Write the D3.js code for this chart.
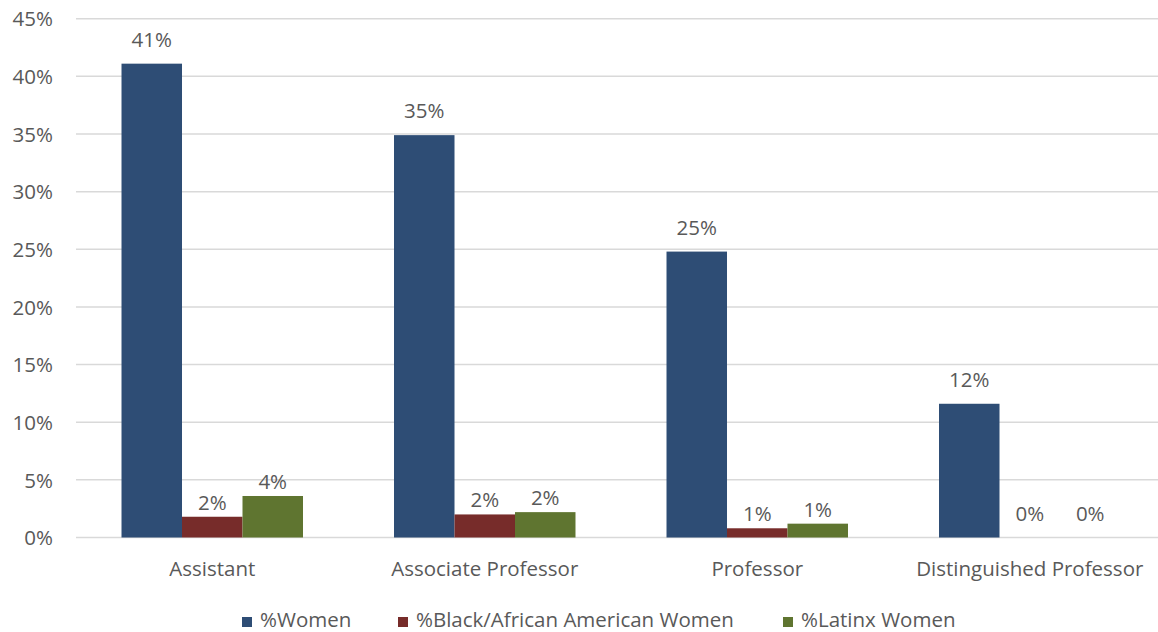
<!DOCTYPE html>
<html>
<head>
<meta charset="utf-8">
<script src="https://cdn.jsdelivr.net/npm/d3@7"></script>
<style>
  body { margin: 0; background: #fff; }
  text { font-family: "Open Sans", sans-serif; fill: #595959; }
</style>
</head>
<body>
<svg id="chart" width="1158" height="632"></svg>
<script>
// categories and series
var categories = ["Assistant", "Associate Professor", "Professor", "Distinguished Professor"];
var seriesNames = ["%Women", "%Black/African American Women", "%Latinx Women"];
var women  = [0.411, 0.349, 0.248, 0.116];
var black  = [0.018, 0.020, 0.008, 0];
var latinx = [0.036, 0.022, 0.012, 0];
var yTicks = [0, 0.05, 0.10, 0.15, 0.20, 0.25, 0.30, 0.35, 0.40, 0.45];
var colors = ["#2e4d75", "#772c2a", "#5f7530"];

var values = [women, black, latinx];

var svg = d3.select("#chart");

var x0 = d3.scaleBand()
    .domain(categories)
    .range([76, 1166])
    .paddingInner(0.334)
    .paddingOuter(0.167);

var x1 = d3.scaleBand()
    .domain(d3.range(seriesNames.length))
    .range([0, x0.bandwidth()]);

var y = d3.scaleLinear()
    .domain([0, 0.45])
    .range([537.5, 18.7]);

var fmt = d3.format(".0%");

//gridlines
svg.append("g")
    .selectAll("line")
    .data(yTicks)
    .enter().append("line")
    .attr("x1", 76)
    .attr("x2", 1166)
    .attr("y1", function(d) { return y(d); })
    .attr("y2", function(d) { return y(d); })
    .style("stroke", "#d9d9d9")
    .style("stroke-width", 1.5);

//y axis labels
var yAxis = d3.axisLeft(y).tickValues(yTicks).tickFormat(fmt).tickSize(0).tickPadding(0);
var ya = svg.append("g")
    .attr("transform", "translate(53,0)")
    .call(yAxis);
ya.select(".domain").remove();
ya.selectAll("text")
    .style("font-size", "20.5px")
    .style("fill", "#595959")
    .style("font-family", "'Open Sans', sans-serif")
    .attr("dy", "0.35em");

//bars
var groups = svg.append("g")
    .selectAll("g")
    .data(categories)
    .enter().append("g")
    .attr("transform", function(d) { return "translate(" + x0(d) + ",0)"; });

groups.selectAll("rect")
    .data(function(d, i) { return values.map(function(s, j) { return {s: j, v: s[i]}; }); })
    .enter().append("rect")
    .attr("x", function(d) { return x1(d.s); })
    .attr("width", x1.bandwidth())
    .attr("y", function(d) { return y(d.v); })
    .attr("height", function(d) { return y(0) - y(d.v); })
    .style("fill", function(d) { return colors[d.s]; });

//value labels
groups.selectAll("text.val")
    .data(function(d, i) { return values.map(function(s, j) { return {s: j, v: s[i]}; }); })
    .enter().append("text")
    .attr("class", "val")
    .attr("x", function(d) { return x1(d.s) + x1.bandwidth() / 2; })
    .attr("y", function(d) {
        var off = (d.v >= 0.1 || d.v === 0) ? 17 : 7;
        return y(d.v) - off;
    })
    .attr("text-anchor", "middle")
    .style("font-size", "20.5px")
    .text(function(d) { return fmt(d.v); });

//x axis labels
var xAxis = d3.axisBottom(x0).tickSize(0).tickPadding(0);
var xa = svg.append("g")
    .attr("transform", "translate(0,576)")
    .call(xAxis);
xa.select(".domain").remove();
xa.selectAll("text")
    .attr("y", 0)
    .attr("dy", 0)
    .style("font-size", "20.5px")
    .style("fill", "#595959")
    .style("font-family", "'Open Sans', sans-serif");

//legend
var legendX = [242, 398, 783];
var legend = svg.append("g")
    .selectAll("g")
    .data(seriesNames)
    .enter().append("g")
    .attr("transform", function(d, i) { return "translate(" + legendX[i] + ",617)"; });

legend.append("rect")
    .attr("width", 10)
    .attr("height", 10)
    .style("fill", function(d, i) { return colors[i]; });

legend.append("text")
    .attr("x", 18)
    .attr("y", 10)
    .style("font-size", "20.5px")
    .text(function(d) { return d; });
</script>
</body>
</html>
